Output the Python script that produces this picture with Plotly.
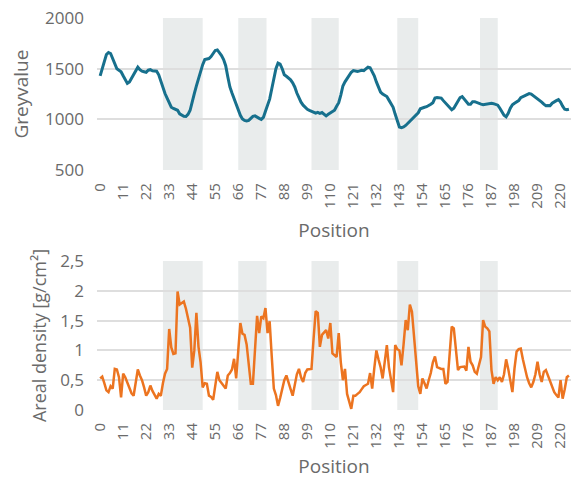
import plotly.graph_objects as go

positions = list(range(225))

greyvalue = [
    1430, 1490, 1570, 1640, 1660, 1650, 1600, 1550, 1500, 1485,
    1470, 1430, 1390, 1355, 1370, 1410, 1450, 1490, 1515, 1490,
    1475, 1470, 1465, 1485, 1490, 1480, 1478, 1475, 1440, 1380,
    1300, 1255, 1210, 1160, 1120, 1108, 1100, 1090, 1055, 1040,
    1030, 1028, 1050, 1090, 1160, 1255, 1330, 1410, 1470, 1540,
    1590, 1595, 1600, 1620, 1650, 1680, 1685, 1660, 1630, 1590,
    1530, 1420, 1320, 1260, 1200, 1140, 1090, 1040, 1005, 990,
    985, 990, 1010, 1030, 1035, 1020, 1010, 1000, 1020, 1080,
    1140, 1200, 1300, 1400, 1500, 1555, 1545, 1500, 1440, 1425,
    1410, 1390, 1360, 1320, 1260, 1210, 1170, 1140, 1115, 1100,
    1090, 1080, 1072, 1062, 1070, 1060, 1068, 1050, 1035, 1050,
    1065, 1075, 1090, 1130, 1165, 1240, 1330, 1370, 1400, 1430,
    1465, 1482, 1480, 1472, 1478, 1485, 1480, 1500, 1515, 1510,
    1470, 1430, 1370, 1310, 1270, 1250, 1240, 1225, 1190, 1150,
    1120, 1050, 980, 925, 918, 925, 940, 960, 980, 1000,
    1020, 1045, 1065, 1105, 1115, 1120, 1125, 1135, 1150, 1165,
    1210, 1215, 1212, 1210, 1185, 1165, 1145, 1120, 1095, 1110,
    1150, 1190, 1215, 1225, 1200, 1175, 1150, 1150, 1175, 1175,
    1165, 1160, 1150, 1145, 1148, 1152, 1160, 1158, 1155, 1150,
    1140, 1110, 1070, 1040, 1025, 1060, 1110, 1145, 1160, 1175,
    1185, 1215, 1225, 1228, 1245, 1255, 1250, 1235, 1220, 1205,
    1190, 1170, 1150, 1135, 1138, 1135, 1160, 1175, 1185, 1195,
    1170, 1130, 1100, 1095, 1100,
]

areal_density = [
    0.53, 0.56, 0.45, 0.33, 0.30, 0.40, 0.36, 0.69, 0.68, 0.55,
    0.21, 0.61, 0.55, 0.45, 0.35, 0.28, 0.24, 0.45, 0.68, 0.58,
    0.50, 0.38, 0.24, 0.30, 0.41, 0.32, 0.25, 0.19, 0.27, 0.24,
    0.45, 0.61, 0.69, 1.36, 1.05, 0.94, 0.95, 1.99, 1.77, 1.79,
    1.82, 1.70, 1.55, 1.38, 0.71, 1.00, 1.63, 1.06, 0.80, 0.38,
    0.45, 0.44, 0.24, 0.22, 0.17, 0.40, 0.64, 0.50, 0.45, 0.40,
    0.36, 0.58, 0.62, 0.68, 0.86, 0.53, 1.00, 1.46, 1.28, 1.26,
    1.10, 0.80, 0.44, 0.44, 1.00, 1.58, 1.29, 1.57, 1.54, 1.71,
    1.29, 1.49, 0.90, 0.36, 0.25, 0.07, 0.20, 0.38, 0.50, 0.58,
    0.48, 0.35, 0.24, 0.45, 0.60, 0.69, 0.55, 0.47, 0.62, 0.68,
    0.68, 0.69, 1.20, 1.66, 1.63, 1.06, 1.26, 1.30, 1.34, 1.20,
    1.46, 0.95, 0.92, 0.89, 1.29, 0.80, 0.50, 0.69, 0.27, 0.15,
    0.02, 0.24, 0.24, 0.27, 0.30, 0.35, 0.40, 0.42, 0.44, 0.62,
    0.36, 0.70, 1.00, 0.85, 0.72, 0.53, 0.80, 1.09, 0.72, 0.50,
    0.30, 1.09, 1.02, 1.00, 0.75, 1.10, 1.51, 1.34, 1.77, 1.65,
    1.23, 0.75, 0.40, 0.27, 0.53, 0.45, 0.36, 0.50, 0.62, 0.80,
    0.90, 0.72, 0.70, 0.69, 0.69, 0.44, 0.47, 0.90, 1.40, 1.37,
    1.00, 0.67, 0.72, 0.72, 0.73, 0.66, 1.06, 0.81, 0.75, 0.64,
    0.61, 0.75, 0.89, 1.51, 1.40, 1.37, 1.32, 0.67, 0.44, 0.55,
    0.50, 0.55, 0.47, 0.60, 0.85, 0.69, 0.50, 0.30, 0.70, 0.98,
    1.02, 1.03, 0.85, 0.69, 0.55, 0.45, 0.38, 0.47, 0.60, 0.81,
    0.60, 0.47, 0.64, 0.67, 0.58, 0.50, 0.40, 0.30, 0.25, 0.21,
    0.50, 0.19, 0.35, 0.55, 0.58,
]

band_starts = [30, 66, 101, 142, 181.5]
band_ends = [49, 79.5, 114, 152, 190]

x_tickvals = list(range(0, 221, 11))
grey_ticks = [500, 1000, 1500, 2000]
density_tickvals = [0, 0.5, 1, 1.5, 2, 2.5]
density_ticktext = ["0", "0,5", "1", "1,5", "2", "2,5"]

TEXT = "#6a6a6a"
GRID = "#dedede"
BAND = "#e9ecec"
FONT = "Open Sans"

fig = go.Figure()
fig.add_trace(go.Scatter(
    x=positions, y=greyvalue, mode="lines",
    line=dict(color="#17708d", width=3),
    xaxis="x", yaxis="y", showlegend=False, hoverinfo="skip",
))
fig.add_trace(go.Scatter(
    x=positions, y=areal_density, mode="lines",
    line=dict(color="#ec7420", width=2.5),
    xaxis="x2", yaxis="y2", showlegend=False, hoverinfo="skip",
))

for s, e in zip(band_starts, band_ends):
    fig.add_shape(type="rect", xref="x", yref="y domain", x0=s, x1=e, y0=0, y1=1,
                  fillcolor=BAND, line=dict(width=0), layer="below")
    fig.add_shape(type="rect", xref="x2", yref="y2 domain", x0=s, x1=e, y0=0, y1=1,
                  fillcolor=BAND, line=dict(width=0), layer="below")

xcommon = dict(
    range=[-1.5, 225], tickmode="array", tickvals=x_tickvals,
    ticktext=[str(v) for v in x_tickvals], tickangle=-90,
    showgrid=False, zeroline=False, showline=False, automargin=False,
    ticks="outside", ticklen=6, tickcolor="rgba(0,0,0,0)",
    tickfont=dict(family=FONT, size=15, color=TEXT),
)

fig.update_layout(
    width=574, height=479,
    margin=dict(l=97, r=3, t=18, b=69, autoexpand=False),
    paper_bgcolor="white", plot_bgcolor="white",
    font=dict(family=FONT, color=TEXT),
    xaxis=dict(domain=[0, 1], anchor="y", **xcommon,
               title=dict(text="Position", font=dict(family=FONT, size=19, color=TEXT), standoff=15)),
    xaxis2=dict(domain=[0, 1], anchor="y2", **xcommon,
                title=dict(text="Position", font=dict(family=FONT, size=19, color=TEXT), standoff=12)),
    yaxis=dict(
        domain=[0.612, 1.0], anchor="x", range=[500, 2000], automargin=False,
        tickmode="array", tickvals=grey_ticks, ticktext=[str(v) for v in grey_ticks],
        showgrid=True, gridcolor=GRID, gridwidth=1.5, zeroline=False, showline=False,
        ticklabelstandoff=12,
        tickfont=dict(family=FONT, size=17, color=TEXT),
        title=dict(text="Greyvalue", font=dict(family=FONT, size=19, color=TEXT), standoff=11),
    ),
    yaxis2=dict(
        domain=[0.0, 0.380], anchor="x2", range=[0, 2.5], automargin=False,
        tickmode="array", tickvals=density_tickvals, ticktext=density_ticktext,
        showgrid=True, gridcolor=GRID, gridwidth=1.5, zeroline=False, showline=False,
        ticklabelstandoff=12,
        tickfont=dict(family=FONT, size=17, color=TEXT),
        title=dict(text="Areal density [g/cm²]", font=dict(family=FONT, size=18, color=TEXT), standoff=8),
    ),
)

fig.write_html(
    "out.html",
    config={"displayModeBar": False},
    post_script="document.body.style.margin='0';document.body.style.overflow='hidden';",
)
